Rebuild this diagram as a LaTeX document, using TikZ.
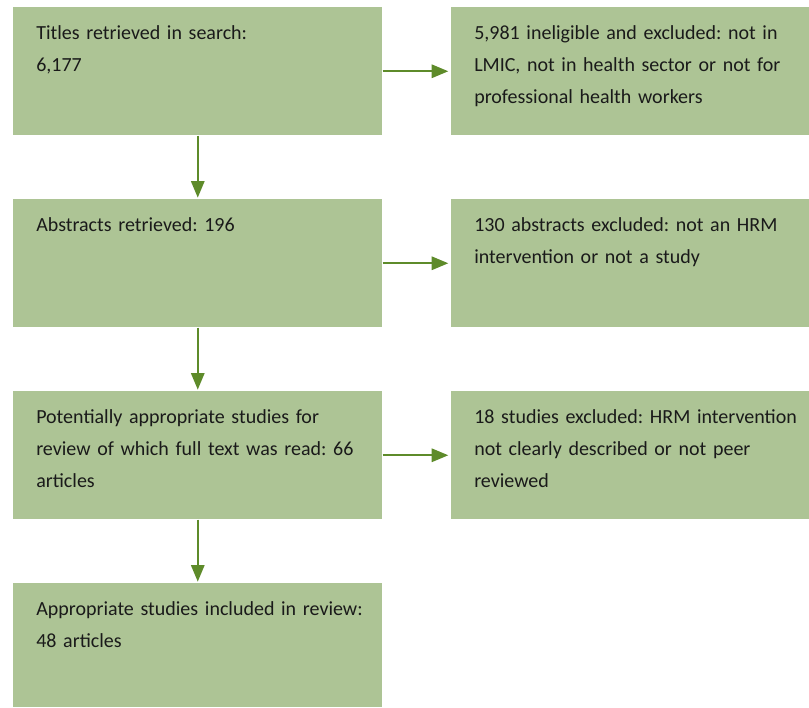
\documentclass[tikz,border=0pt]{standalone}
\usepackage{fontspec}
\setmainfont{Carlito}
\usetikzlibrary{arrows.meta}
\usetikzlibrary{positioning}
\definecolor{sage}{RGB}{173, 196, 149}
\definecolor{leafgreen}{RGB}{94, 139, 42}
\definecolor{inkgrey}{RGB}{26, 26, 26}
\frenchspacing

\begin{document}
\begin{tikzpicture}[x=0.75pt, y=-0.75pt,
    box/.style   = {fill=sage, anchor=north west, inner sep=0pt, minimum width=276.75pt, minimum height=96pt},
    sidebox/.style = {box, minimum width=268.5pt},
    boxtext/.style = {anchor=north west, inner sep=0pt, text width=300pt, align=left,
                      text=inkgrey, font=\fontsize{15}{24}\selectfont},
    flow/.style  = {draw=leafgreen, line width=1.6pt, -{Triangle[length=12.5pt, width=10pt]}}]
    \useasboundingbox (0,0) rectangle (809,707);
    \node[box]                           (titles)    at ( 13,  7) {};
    \node[box]                           (abstracts) at ( 13,199) {};
    \node[box]                           (fulltext)  at ( 13,391) {};
    \node[box, minimum height=93pt]      (included)  at ( 13,583) {};
    \node[sidebox]                       (exTitles)    at (451,  7) {};
    \node[sidebox]                       (exAbstracts) at (451,199) {};
    \node[sidebox]                       (exFulltext)  at (451,391) {};
    \node[boxtext] (titlesText)    at ([shift={(23,18)}]titles.north west)    {Titles retrieved in search:\\6,177};
    \node[boxtext] (abstractsText) at ([shift={(23,18)}]abstracts.north west) {Abstracts retrieved: 196};
    \node[boxtext] (fulltextText)  at ([shift={(23,18)}]fulltext.north west)  {Potentially appropriate studies for\\review of which full text was read: 66\\articles};
    \node[boxtext] (includedText)  at ([shift={(23,18)}]included.north west)  {Appropriate studies included in review:\\48 articles};
    \node[boxtext] (exTitlesText)    at ([shift={(23,18)}]exTitles.north west)    {5,981 ineligible and excluded: not in\\LMIC, not in health sector or not for\\professional health workers};
    \node[boxtext] (exAbstractsText) at ([shift={(23,18)}]exAbstracts.north west) {130 abstracts excluded: not an HRM\\intervention or not a study};
    \node[boxtext] (exFulltextText)  at ([shift={(23,18)}]exFulltext.north west)  {18 studies excluded: HRM intervention\\not clearly described or not peer\\reviewed};
    \draw[flow, shorten >=2pt] (titles.east)    -- (exTitles.west);
    \draw[flow, shorten >=2pt] (abstracts.east) -- (exAbstracts.west);
    \draw[flow, shorten >=2pt] (fulltext.east)  -- (exFulltext.west);
    \draw[flow, shorten >=1pt] (titles.south)    -- (abstracts.north);
    \draw[flow, shorten >=1pt] (abstracts.south) -- (fulltext.north);
    \draw[flow, shorten >=1pt] (fulltext.south)  -- (included.north);
\end{tikzpicture}
\end{document}
